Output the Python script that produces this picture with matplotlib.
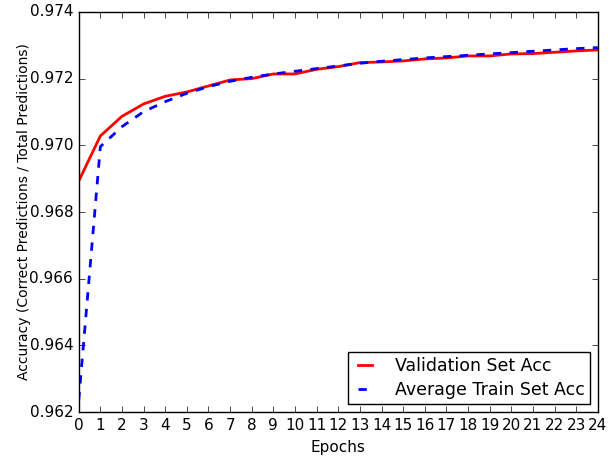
import matplotlib

matplotlib.use("Agg")
import matplotlib.pyplot as plt

plt.style.use("classic")

epochs = list(range(25))
val_acc = [0.96893, 0.97028, 0.97087, 0.97124, 0.97147, 0.97160, 0.97178,
           0.97196, 0.97200, 0.97214, 0.97214, 0.97228, 0.97236, 0.97248,
           0.97250, 0.97253, 0.97259, 0.97262, 0.97268, 0.97268, 0.97274,
           0.97275, 0.97279, 0.97283, 0.97286]
train_acc = [0.96236, 0.96996, 0.97056, 0.97101, 0.97131, 0.97156, 0.97176,
             0.97192, 0.97204, 0.97214, 0.97222, 0.97230, 0.97238, 0.97246,
             0.97252, 0.97257, 0.97262, 0.97266, 0.97270, 0.97274, 0.97278,
             0.97282, 0.97286, 0.97290, 0.97293]

fig = plt.figure(figsize=(6.15, 4.58), dpi=100, facecolor="white")
ax = fig.add_axes((0.128, 0.1, 0.844, 0.874))

ax.plot(epochs, val_acc, "r-", linewidth=2, label="Validation Set Acc")
ax.plot(epochs, train_acc, "b--", linewidth=2, label="Average Train Set Acc")

ax.set_xlim(0, 24)
ax.set_ylim(0.962, 0.974)
ax.set_xticks(epochs)
ax.set_yticks([0.962, 0.964, 0.966, 0.968, 0.970, 0.972, 0.974])
ax.yaxis.set_major_formatter(matplotlib.ticker.FormatStrFormatter("%.3f"))
ax.tick_params(labelsize=11)
ax.set_xlabel("Epochs", fontsize=11)
ax.set_ylabel("Accuracy (Correct Predictions / Total Predictions)", fontsize=10)
ax.yaxis.set_label_coords(-0.092, 0.5)
ax.legend(loc="lower right", fontsize=12.5, handlelength=1.4, handletextpad=1.0,
          labelspacing=0.35, borderpad=0.3, borderaxespad=0.45)

fig.savefig("out.png", dpi=100, facecolor="white")
